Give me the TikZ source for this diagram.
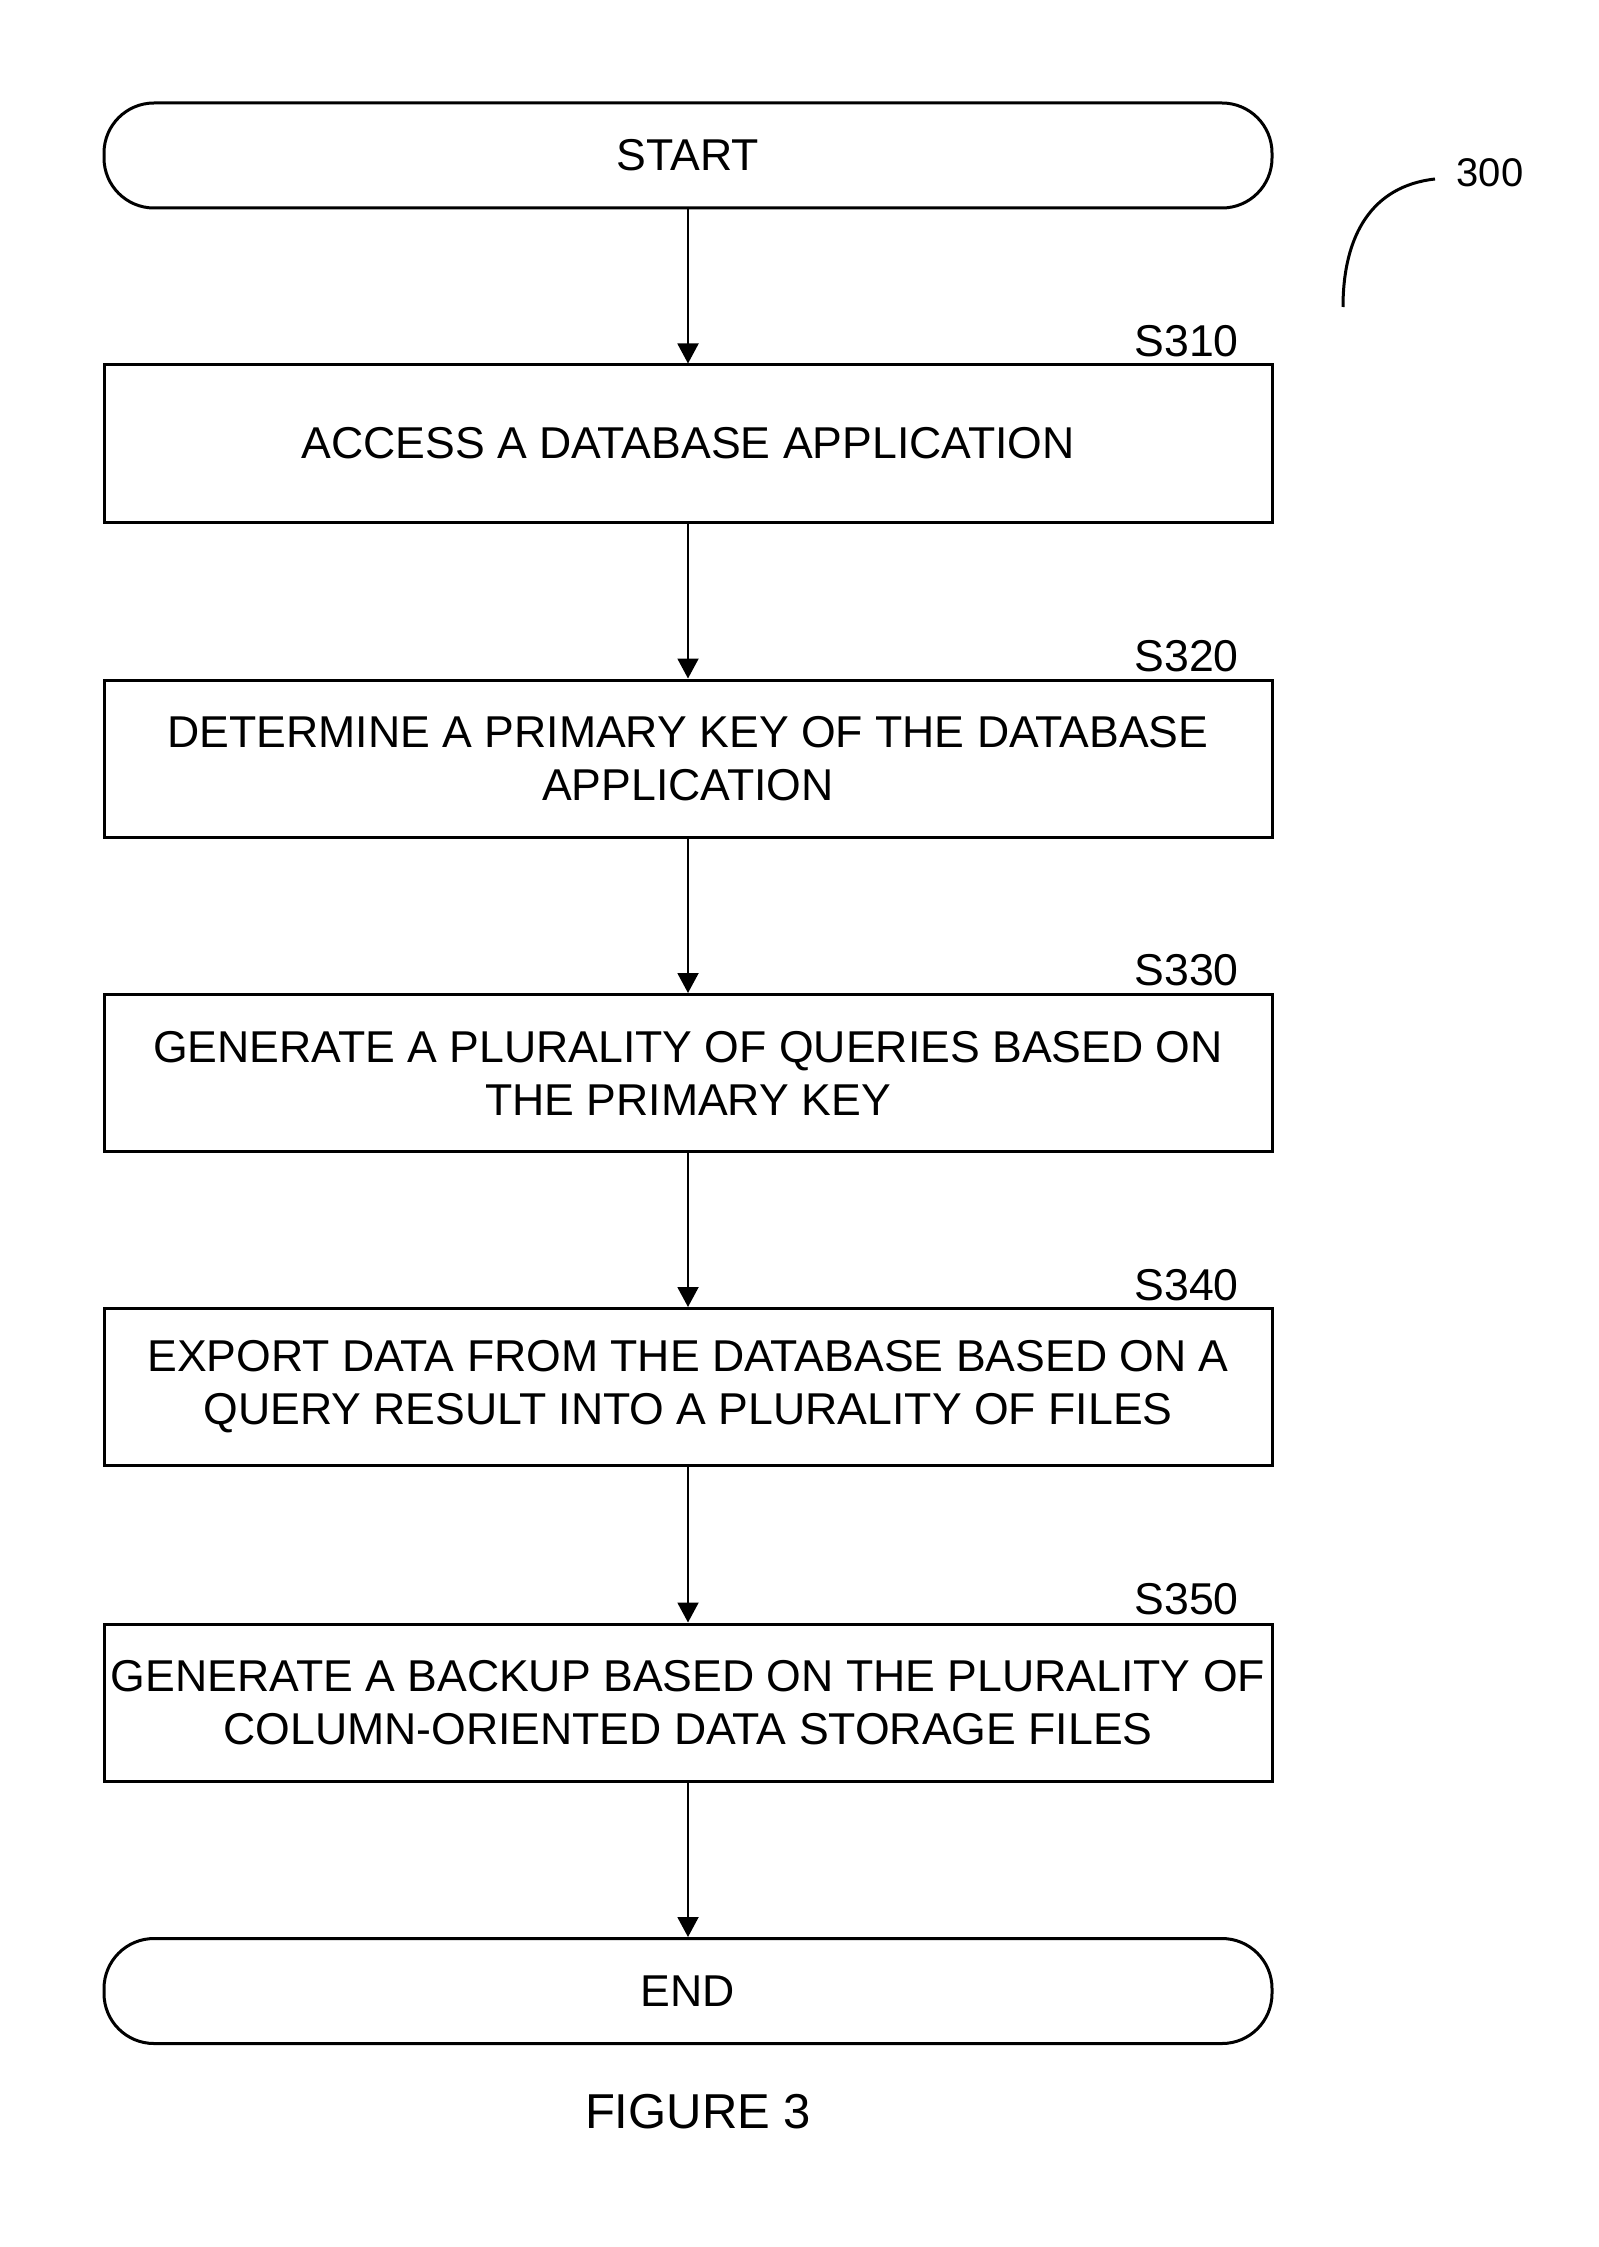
\documentclass[tikz,border=0pt]{standalone}
\usepackage{fontspec}
\setmainfont{Liberation Sans}
\usetikzlibrary{arrows.meta}
\begin{document}
\begin{tikzpicture}[x=0.5pt,y=-0.5pt,
  txt/.style={font=\fontsize{22.3pt}{26.5pt}\selectfont},
  stepbox/.style={draw, line width=1.5pt, minimum width=584pt, minimum height=78.5pt, inner sep=0pt, align=center, txt},
  termbox/.style={draw, line width=1.5pt, rounded corners=25pt, minimum width=584pt, minimum height=52.5pt, inner sep=0pt, txt},
  steplabel/.style={anchor=base east, inner sep=0pt, txt},
  flow/.style={line width=1pt, -{Triangle[length=10pt,width=10.5pt]}}
]
\useasboundingbox (0,0) rectangle (1599,2247);
\node[termbox] (start) at (688,155.5) {START};
\node[stepbox] (s310) at (688,443.5) {ACCESS A DATABASE APPLICATION};
\node[stepbox] (s320) at (688,758.5) {DETERMINE A PRIMARY KEY OF THE DATABASE\\APPLICATION};
\node[stepbox] (s330) at (688,1073) {GENERATE A PLURALITY OF QUERIES BASED ON\\THE PRIMARY KEY};
\node[stepbox] (s340) at (688,1387) {EXPORT DATA FROM THE DATABASE BASED ON A\\QUERY RESULT INTO A PLURALITY OF FILES};
\node[stepbox] (s350) at (688,1702.5) {GENERATE A BACKUP BASED ON THE PLURALITY OF\\COLUMN-ORIENTED DATA STORAGE FILES};
\node[termbox] (end) at (688,1991) {END};

\node[steplabel] (l310) at (1239,357) {S310};
\node[steplabel] (l320) at (1239,671) {S320};
\node[steplabel] (l330) at (1239,985.5) {S330};
\node[steplabel] (l340) at (1239,1300) {S340};
\node[steplabel] (l350) at (1239,1614) {S350};

\draw[flow] (start) -- (s310);
\draw[flow] (s310) -- (s320);
\draw[flow] (s320) -- (s330);
\draw[flow] (s330) -- (s340);
\draw[flow] (s340) -- (s350);
\draw[flow] (s350) -- (end);

\node[inner sep=0pt, font=\fontsize{20pt}{24pt}\selectfont] (l300) at (1490,173) {300};
\coordinate (arcA) at (1343,307);
\coordinate (arcB) at (1435,179);
\draw[line width=1.5pt] (arcA) .. controls (1343,235) and (1372,186) .. (arcB);

\node[inner sep=0pt, font=\fontsize{24.5pt}{29pt}\selectfont] (fig) at (698,2112) {FIGURE 3};
\end{tikzpicture}
\end{document}
